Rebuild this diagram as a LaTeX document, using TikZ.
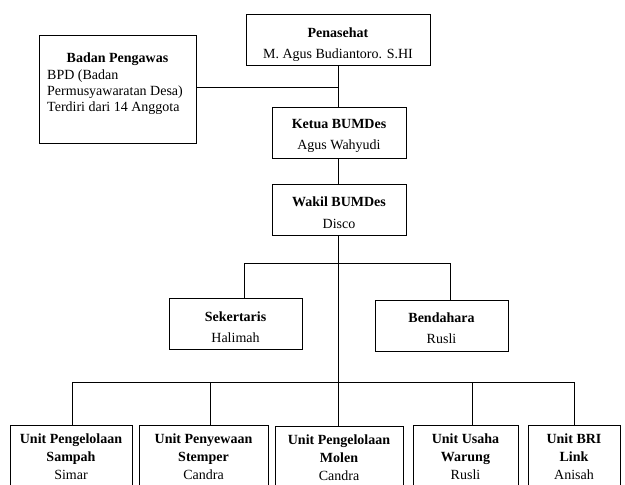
\documentclass[tikz,border=0pt]{standalone}
\usepackage{fontspec}
\setmainfont{Liberation Serif}
\begin{document}
\begin{tikzpicture}[x=1pt,y=-1pt,
  box/.style={draw=black,line width=0.9pt,rectangle,inner sep=0pt},
  ttl/.style={anchor=base,inner sep=0pt,font=\fontsize{14}{16}\selectfont\bfseries},
  txt/.style={anchor=base,inner sep=0pt,font=\fontsize{14}{16}\selectfont},
  ln/.style={draw=black,line width=0.9pt}]
\useasboundingbox (0,0) rectangle (625,485);
\clip (0,0) rectangle (625,485);
\fill[white] (0,0) rectangle (625,485);
% boxes
\node[box,minimum width=184pt,minimum height=51pt] (pen) at (338,39.5) {};
\node[box,minimum width=157pt,minimum height=108pt] (bad) at (117.5,89) {};
\node[box,minimum width=134pt,minimum height=51pt] (ket) at (339,132.5) {};
\node[box,minimum width=134pt,minimum height=51pt] (wak) at (339,209.5) {};
\node[box,minimum width=133pt,minimum height=51pt] (sek) at (235.5,323.5) {};
\node[box,minimum width=133pt,minimum height=51pt] (ben) at (441.5,325.5) {};
\node[box,minimum width=122pt,minimum height=80pt] (u1) at (71,465) {};
\node[box,minimum width=129pt,minimum height=80pt] (u2) at (203.5,465) {};
\node[box,minimum width=128pt,minimum height=80pt] (u3) at (339,466) {};
\node[box,minimum width=105pt,minimum height=80pt] (u4) at (465.5,465) {};
\node[box,minimum width=92pt,minimum height=80pt] (u5) at (574,465) {};
% texts
\node[ttl] (pen-t) at (338,37) {Penasehat};
\node[txt] (pen-n) at (338,58) {M. Agus Budiantoro. S.HI};
\node[ttl] (bad-t) at (117.5,62) {Badan Pengawas};
\node[txt,anchor=base west] (bad-1) at (47,79) {BPD (Badan};
\node[txt,anchor=base west] (bad-2) at (47,95) {Permusyawaratan Desa)};
\node[txt,anchor=base west] (bad-3) at (47,111) {Terdiri dari 14 Anggota};
\node[ttl] (ket-t) at (339,128) {Ketua BUMDes};
\node[txt] (ket-n) at (339,149) {Agus Wahyudi};
\node[ttl] (wak-t) at (339,206) {Wakil BUMDes};
\node[txt] (wak-n) at (339,228) {Disco};
\node[ttl] (sek-t) at (235.5,321) {Sekertaris};
\node[txt] (sek-n) at (235.5,342) {Halimah};
\node[ttl] (ben-t) at (441.5,322) {Bendahara};
\node[txt] (ben-n) at (441.5,343) {Rusli};
\node[ttl] (u1-a) at (71,443) {Unit Pengelolaan};
\node[ttl] (u1-b) at (71,461) {Sampah};
\node[txt] (u1-c) at (71,479) {Simar};
\node[ttl] (u2-a) at (203.5,443) {Unit Penyewaan};
\node[ttl] (u2-b) at (203.5,461) {Stemper};
\node[txt] (u2-c) at (203.5,479) {Candra};
\node[ttl] (u3-a) at (339,444) {Unit Pengelolaan};
\node[ttl] (u3-b) at (339,462) {Molen};
\node[txt] (u3-c) at (339,480) {Candra};
\node[ttl] (u4-a) at (465.5,443) {Unit Usaha};
\node[ttl] (u4-b) at (465.5,461) {Warung};
\node[txt] (u4-c) at (465.5,479) {Rusli};
\node[ttl] (u5-a) at (574,443) {Unit BRI};
\node[ttl] (u5-b) at (574,461) {Link};
\node[txt] (u5-c) at (574,479) {Anisah};
% junction coordinates
\coordinate (j0) at (338,87);
\coordinate (brL) at (244,263);
\coordinate (brR) at (450,263);
\coordinate (b1) at (72,382);
\coordinate (b2) at (210,382);
\coordinate (b4) at (472,382);
\coordinate (b5) at (574,382);
% connectors
\draw[ln] (pen.south -| j0) -- (ket.north -| j0);
\draw[ln] (bad.east |- j0) -- (j0);
\draw[ln] (ket.south -| j0) -- (wak.north -| j0);
\draw[ln] (wak.south -| j0) -- (u3.north -| j0);
\draw[ln] (sek.north -| brL) -- (brL) -- (brR) -- (ben.north -| brR);
\draw[ln] (u1.north -| b1) -- (b1) -- (b5) -- (u5.north -| b5);
\draw[ln] (b2) -- (u2.north -| b2);
\draw[ln] (b4) -- (u4.north -| b4);
\end{tikzpicture}
\end{document}
